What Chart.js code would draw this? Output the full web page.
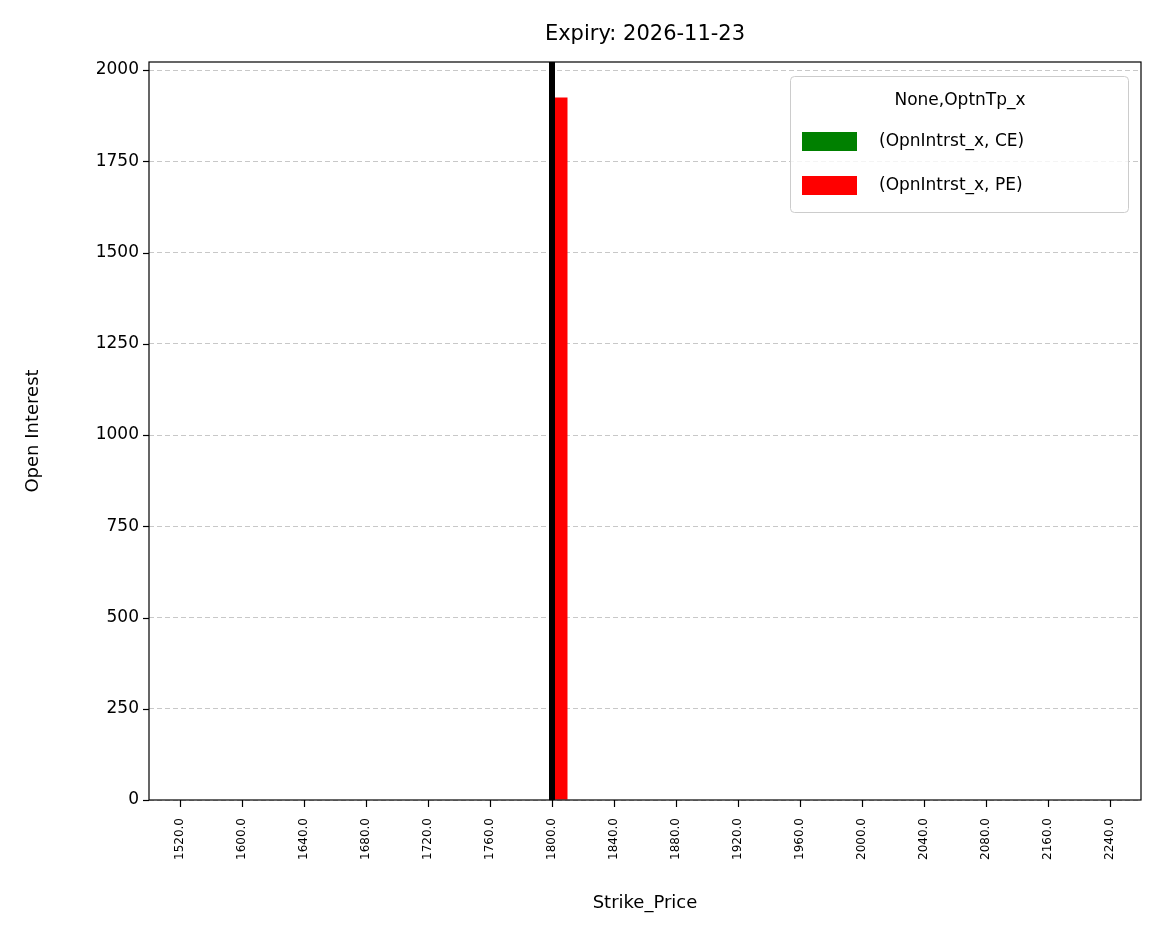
<!DOCTYPE html>
<html><head><meta charset="utf-8">
<script src="https://cdn.jsdelivr.net/npm/chart.js@4.4.0/dist/chart.umd.min.js"></script>
<style>html,body{margin:0;background:#fff}#c{display:block}</style>
</head><body>
<canvas id="c" width="1161" height="939"></canvas>
<script>
// ─── DATA ─────────────────────────────────────────
const STRIKES = ['1520.0','1600.0','1640.0','1680.0','1720.0','1760.0','1800.0','1840.0',
                 '1880.0','1920.0','1960.0','2000.0','2040.0','2080.0','2160.0','2240.0'];
const CE_OI = [0,0,0,0,0,0,0,0,0,0,0,0,0,0,0,0];
const PE_OI = [0,0,0,0,0,0,1925,0,0,0,0,0,0,0,0,0];
const Y_TICKS = [0,250,500,750,1000,1250,1500,1750,2000];
const SPOT = '1800.0';
const FONT = "'DejaVu Sans', sans-serif";

const overlay = {
  id: 'overlay',
  afterDatasetsDraw(chart) {
    const { ctx, chartArea: a, scales } = chart;
    const x = scales.x.getPixelForValue(STRIKES.indexOf(SPOT));
    ctx.save();
    ctx.fillStyle = '#000';
    ctx.fillRect(x - 3, a.top, 6, a.bottom - a.top);
    ctx.restore();
  },
  afterDraw(chart) {
    const { ctx, chartArea: a, scales } = chart;
    ctx.save();
    ctx.strokeStyle = '#000'; ctx.lineWidth = 1.2;
    ctx.strokeRect(a.left, a.top, a.right - a.left, a.bottom - a.top);
    // tick marks
    Y_TICKS.forEach(v => {
      const y = Math.round(scales.y.getPixelForValue(v)) + 0.5;
      ctx.beginPath(); ctx.moveTo(a.left - 6, y); ctx.lineTo(a.left, y); ctx.stroke();
    });
    STRIKES.forEach((s, i) => {
      const x = Math.round(scales.x.getPixelForValue(i)) + 0.5;
      ctx.beginPath(); ctx.moveTo(x, a.bottom); ctx.lineTo(x, a.bottom + 7); ctx.stroke();
    });
    ctx.fillStyle = '#000'; ctx.textAlign = 'center'; ctx.textBaseline = 'middle';
    ctx.font = `21px ${FONT}`;
    ctx.fillText('Expiry: 2026-11-23', (a.left + a.right) / 2, 35);
    ctx.font = `18px ${FONT}`;
    ctx.fillText('Strike_Price', (a.left + a.right) / 2, 903);
    ctx.save();
    ctx.translate(33, (a.top + a.bottom) / 2); ctx.rotate(-Math.PI / 2);
    ctx.fillText('Open Interest', 0, 0);
    ctx.restore();
    // legend
    ctx.fillStyle = 'rgba(255,255,255,0.8)';
    ctx.strokeStyle = '#ccc'; ctx.lineWidth = 1;
    ctx.beginPath(); ctx.roundRect(790.5, 76.5, 338, 136, 4); ctx.fill(); ctx.stroke();
    ctx.fillStyle = '#000'; ctx.font = `17px ${FONT}`;
    ctx.fillText('None,OptnTp_x', 960, 101);
    const items = [['(OpnIntrst_x, CE)', '#008000', 142], ['(OpnIntrst_x, PE)', '#ff0000', 186]];
    ctx.textAlign = 'left';
    items.forEach(([t, c, y]) => {
      ctx.fillStyle = c; ctx.fillRect(802, y - 10, 55, 19);
      ctx.fillStyle = '#000'; ctx.fillText(t, 879, y);
    });
    ctx.restore();
  }
};

new Chart(document.getElementById('c'), {
  type: 'bar',
  data: {
    labels: STRIKES,
    datasets: [
      { label: '(OpnIntrst_x, CE)', data: CE_OI, backgroundColor: '#008000' },
      { label: '(OpnIntrst_x, PE)', data: PE_OI, backgroundColor: '#ff0000' }
    ]
  },
  options: {
    responsive: false, animation: false, devicePixelRatio: 1,
    layout: { padding: { top: 62, right: 20, left: 0, bottom: 0 } },
    datasets: { bar: { categoryPercentage: 0.5, barPercentage: 1 } },
    plugins: { legend: { display: false }, title: { display: false }, tooltip: { enabled: false } },
    scales: {
      x: {
        afterFit(s) { s.height = 139; },
        grid: { display: false, drawOnChartArea: false, tickLength: 7 },
        border: { display: false },
        ticks: { minRotation: 90, maxRotation: 90, autoSkip: false, color: '#000',
                 font: { family: FONT, size: 12 }, padding: 11 }
      },
      y: {
        min: 0, max: 2022,
        afterFit(s) { s.width = 149; },
        afterBuildTicks(s) { s.ticks = Y_TICKS.map(v => ({ value: v })); },
        grid: { color: '#c8c8c8', lineWidth: 1, tickLength: 0, tickColor: 'transparent' },
        border: { display: false, dash: [5, 3] },
        ticks: { color: '#000', font: { family: FONT, size: 17 }, padding: 10,
                 callback: v => String(v) }
      }
    }
  },
  plugins: [overlay]
});
</script>
</body></html>
